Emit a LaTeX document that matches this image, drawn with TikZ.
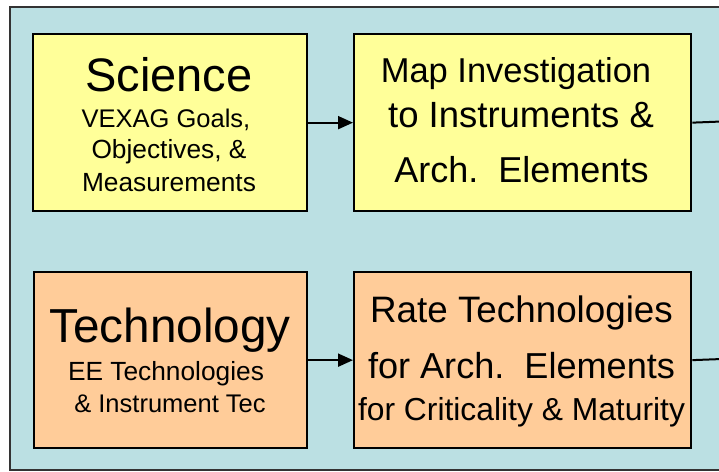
\documentclass[tikz,border=0pt]{standalone}
\usepackage{fontspec}
\setmainfont{Liberation Sans}
\usetikzlibrary{arrows.meta}
\definecolor{panelblue}{RGB}{187,224,227}
\definecolor{sciyellow}{RGB}{255,255,153}
\definecolor{techorange}{RGB}{255,204,153}
\tikzset{
  box/.style={draw=black, line width=2.3bp, inner sep=0pt, anchor=north west},
  txt/.style={anchor=base, inner sep=0pt, text=black},
  conn/.style={line width=2bp, -{Triangle[length=15bp,width=13bp]}},
  plain/.style={line width=2bp}
}
\newcommand{\fs}[1]{\fontsize{#1bp}{#1bp}\selectfont}
\begin{document}
\begin{tikzpicture}[x=1bp,y=-1bp]
\useasboundingbox (0,0) rectangle (719,472);
\fill[white] (0,0) rectangle (719,472);
\draw[fill=panelblue, draw=black!80, line width=1.3bp] (10,7) rectangle (730,470);
% boxes
\node[box, fill=sciyellow, minimum width=274bp, minimum height=177bp] (sci) at (32,33) {};
\node[box, fill=sciyellow, minimum width=337bp, minimum height=177bp] (map) at (353,33) {};
\node[box, fill=techorange, minimum width=273bp, minimum height=176bp] (tech) at (33,271) {};
\node[box, fill=techorange, minimum width=337bp, minimum height=176bp] (rate) at (353,271) {};
% texts
\node[txt] (t1) at (169,92) {\fs{47}Science};
\node[txt] (t2) at (166,128) {\fs{25.5}VEXAG Goals,};
\node[txt] (t3) at (169,159) {\fs{26.3}Objectives, \&};
\node[txt] (t4) at (169,192) {\fs{26.3}Measurements};
\node[txt] (m1) at (516,83) {\fs{34.5}Map Investigation};
\node[txt] (m2) at (521,128) {\fs{36.5}to Instruments \&};
\node[txt] (m3) at (521.5,183) {\fs{36}Arch.\ \ Elements};
\node[txt] (g1) at (170,343) {\fs{47.7}Technology};
\node[txt] (g2) at (166,380) {\fs{26.3}EE Technologies};
\node[txt] (g3) at (170,412) {\fs{25.5}\& Instrument Tec};
\node[txt] (r1) at (521.5,323) {\fs{36.8}Rate Technologies};
\node[txt] (r2) at (521.5,378) {\fs{36.1}for Arch.\ \ Elements};
\node[txt] (r3) at (521.5,420) {\fs{31.8}for Criticality \& Maturity};
% connectors
\coordinate (e1) at (722,121.5);
\coordinate (e2) at (722,359);
\draw[conn] (sci.east) -- (map.west);
\draw[conn] (tech.east) -- (rate.west);
\draw[plain] (map.east) -- (e1);
\draw[plain] (rate.east) -- (e2);
\end{tikzpicture}
\end{document}
